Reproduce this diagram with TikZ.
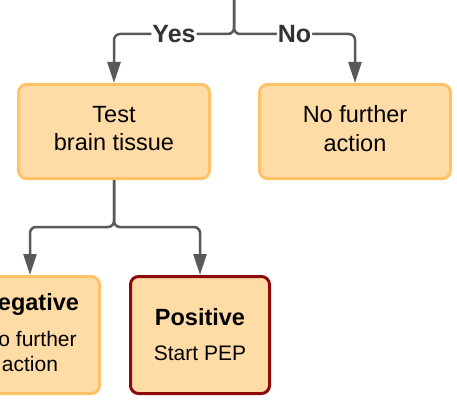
\documentclass[tikz,border=0pt]{standalone}
\usepackage{fontspec}
\setmainfont{Liberation Sans}
\usetikzlibrary{arrows.meta, positioning}

\definecolor{boxfill}{HTML}{FFDBA6}
\definecolor{boxline}{HTML}{FFC266}
\definecolor{posline}{HTML}{8C0A0A}
\definecolor{flowgray}{HTML}{595959}
\definecolor{lblgray}{HTML}{333333}

\begin{document}
\begin{tikzpicture}[
        x=1pt, y=1pt,
        >={Triangle[length=21pt, width=13pt]},
        box/.style={
            rectangle,
            draw=boxline,
            line width=3pt,
            fill=boxfill,
            rounded corners=8pt,
            align=center
        },
        block/.style={
            box,
            minimum width=191pt,
            minimum height=94pt,
            text depth=6pt,
            font=\fontsize{23.5}{28.5}\selectfont
        },
        result/.style={
            box,
            minimum width=139pt,
            minimum height=117pt,
            font=\fontsize{21}{25}\selectfont
        },
        flow/.style={
            draw=flowgray,
            line width=2.5pt,
            rounded corners=6pt,
            ->
        },
        answer/.style={
            fill=white,
            text=lblgray,
            inner sep=1pt,
            font=\fontsize{25}{30}\selectfont\bfseries
        }
    ]
    \useasboundingbox (0,0) rectangle (457,-401);

    % boxes
    \node[block] (test) at (114,-131.5) {Test\\brain tissue};
    \node[block] (noaction) at (355,-131.5) {No further\\action};
    \node[result, text depth=6pt] (neg) at (30,-335) {{\fontsize{23.5}{28}\selectfont\bfseries Negative}\\[11pt]No further\\action};
    \node[result, draw=posline] (pos) at (200,-335) {{\fontsize{23.5}{28}\selectfont\bfseries Positive}\\[10pt]Start PEP};

    % split points
    \coordinate (src) at (234,5);
    \coordinate (split) at (234,-34);
    \coordinate (fork) at (114,-227);

    \draw[flow] (src) -- (split) -| node[answer, pos=0.25] {Yes} (test);
    \draw[flow] (src) -- (split) -| node[answer, pos=0.25] {No} (noaction);
    \draw[flow] (test) -- (fork) -| (neg);
    \draw[flow] (test) -- (fork) -| (pos);

\end{tikzpicture}
\end{document}
